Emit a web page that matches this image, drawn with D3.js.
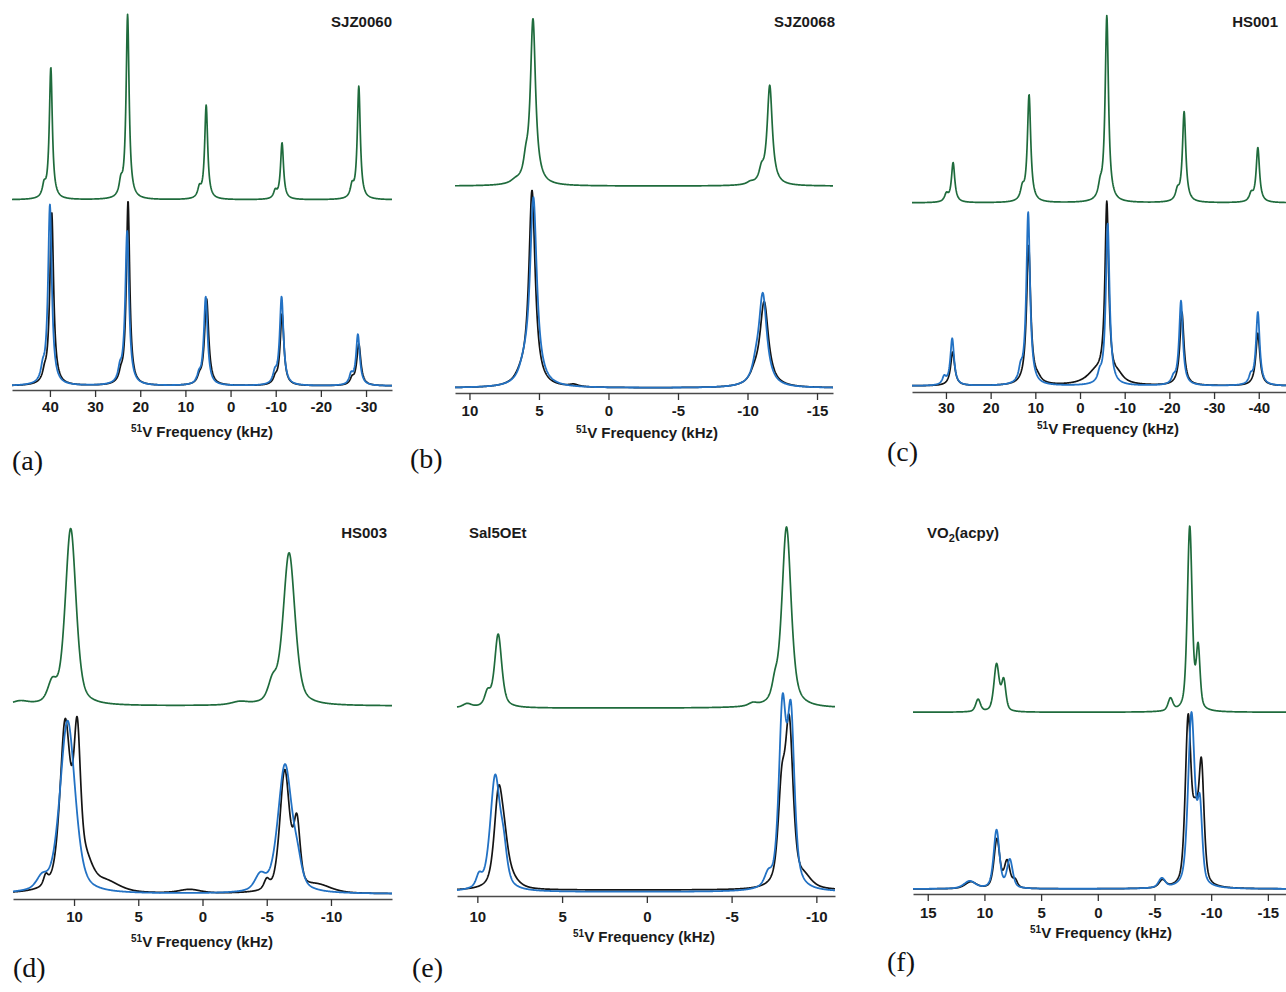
<!DOCTYPE html>
<html>
<head>
<meta charset="utf-8">
<script src="https://cdn.jsdelivr.net/npm/d3@7"></script>
<style>
  body { margin: 0; background: #fff; }
  svg { display: block; }
</style>
</head>
<body>
<svg id="chart" width="1286" height="992"></svg>
<script>
// 51V MAS NMR spectra, six samples.
// Each trace is a peak table: [centre (kHz), height (% of panel), FWHM (kHz)].
// "top" = upper green trace, "fit" = blue trace, "exp" = black trace.

// (a) SJZ0060
const sjz0060Top = [[39.8,35,0.8],[41.3,3,0.9],[22.8,49,0.8],[24.3,3.5,0.9],[5.4,25,0.8],[6.9,2.5,0.9],[-11.4,15,0.8],[-9.9,2,0.9],[-28.4,30,0.8],[-26.9,3,0.9]];
const sjz0060Fit = [[40.0,48,1.0],[41.6,3,1.0],[22.9,41,1.0],[24.5,3,1.0],[5.5,23.5,1.0],[7.0,2,1.0],[-11.3,23.5,1.0],[-9.8,2.5,1.0],[-28.2,13.5,1.0],[-26.7,2.5,1.0]];
const sjz0060Exp = [[39.6,46,1.0],[41.2,2,1.0],[22.7,49,0.9],[24.3,2,1.0],[5.3,23,1.1],[6.9,1.5,1.0],[-11.4,19,1.0],[-9.9,1.5,1.0],[-28.4,11,1.1],[-26.9,1.5,1.0]];

// (b) SJZ0068
const sjz0068Top = [[5.43,44,0.45],[5.95,4,0.4],[6.7,0.8,0.8],[-11.6,26.5,0.45],[-11.0,3,0.4],[-10.2,0.6,0.6]];
const sjz0068Fit = [[5.4,50,0.6],[6.1,3,0.8],[-11.1,24.5,0.7],[-10.6,3,0.6]];
const sjz0068Exp = [[5.5,52,0.55],[6.3,2,1.0],[2.5,0.6,0.8],[-11.2,22.5,0.75],[-10.5,2,0.8]];

// (c) HS001
const hs001Top = [[28.4,10.5,0.9],[29.9,2,1.0],[11.4,28.5,0.9],[12.9,3,1.0],[-6.0,49.5,0.9],[-4.5,3,1.0],[-23.3,24,0.9],[-21.8,2.5,1.0],[-39.8,14.5,0.9],[-38.3,2,1.0]];
const hs001Fit = [[28.6,12.5,1.0],[30.4,2,1.0],[11.6,46,1.0],[13.3,3,1.0],[-6.2,43,1.0],[-4.4,2,1.0],[-22.6,22.5,1.0],[-20.9,1.5,1.0],[-39.8,19.5,1.0],[-38.2,2,1.0]];
const hs001Exp = [[28.5,9,1.1],[11.5,37,1.1],[9.5,1.2,2],[-6.0,47,1.0],[-3.5,3.2,5],[-8.5,2,3],[-22.8,19.5,1.1],[-39.8,14,1.1]];

// (d) HS003
const hs003Top = [[10.26,47,1.0],[11.7,5,0.8],[14.2,1,1.5],[-6.74,40.5,1.1],[-5.45,5,0.8],[-2.9,0.8,1.5]];
const hs003Fit = [[10.5,46,1.4],[12.5,3,1.0],[-6.42,34,1.3],[-7.4,5,0.8],[-4.5,4,1.0]];
const hs003Exp = [[10.7,38,0.9],[9.75,34,0.6],[10.2,8,2.0],[9.0,4,1.2],[12.2,2.5,0.4],[7.5,2.5,2.5],[1.0,1.0,2.0],[-6.4,32,0.9],[-7.35,17,0.6],[-5.0,2.5,0.5],[-9.0,2,2.5]];

// (e) Sal5OEt
const sal5oetTop = [[8.77,19.5,0.5],[9.4,3.5,0.4],[10.6,1,0.6],[-8.24,48,0.65],[-7.55,4,0.4],[-6.25,0.8,0.6]];
const sal5oetFit = [[8.95,30,0.7],[8.45,8,0.5],[9.9,3,0.4],[-8.0,46,0.5],[-8.5,44,0.5],[-7.15,3,0.5]];
const sal5oetExp = [[8.75,24,0.6],[8.4,8,0.6],[8.0,2,1.0],[-8.4,42,0.55],[-7.95,23,0.5],[-9.3,2.5,1.0],[0,0.5,40]];

// (f) VO2(acpy)
const vo2acpyTop = [[10.56,3.3,0.5],[8.93,12.5,0.55],[8.3,8,0.45],[-6.41,3.3,0.5],[-8.11,49,0.5],[-8.85,16,0.4]];
const vo2acpyFit = [[11.3,2,1.2],[8.93,15.5,0.6],[7.76,7.5,0.6],[-5.65,2.5,0.7],[-8.26,46,0.7],[-9.0,20,0.5]];
const vo2acpyExp = [[11.2,1.8,1.2],[8.9,13,0.6],[8.0,7,0.6],[7.3,2,0.5],[-5.7,2,0.7],[-7.97,44,0.6],[-9.14,31,0.55],[-8.6,15,0.6]];

// axis ticks (kHz)
const ticksA = [40,30,20,10,0,-10,-20,-30];
const ticksB = [10,5,0,-5,-10,-15];
const ticksC = [30,20,10,0,-10,-20,-30,-40];
const ticksD = [10,5,0,-5,-10];
const ticksE = [10,5,0,-5,-10];
const ticksF = [15,10,5,0,-5,-10,-15];

const sampleNames = ["SJZ0060","SJZ0068","HS001","HS003","Sal5OEt","VO2(acpy)"];
const panelLetters = ["(a)","(b)","(c)","(d)","(e)","(f)"];

// panel geometry
const layout = [
  {top:sjz0060Top, fit:sjz0060Fit, exp:sjz0060Exp, ticks:ticksA, eta:1.0, offset:49.5,
   x0:12, x1:392, d0:48.4, d1:-35.75, axisY:390, baseY:386, tickDy:22, titleX:202, titleY:437,
   nameX:392, nameY:27, nameAnchor:"end", letterX:12, letterY:470},
  {top:sjz0068Top, fit:sjz0068Fit, exp:sjz0068Exp, ticks:ticksB, eta:1.0, offset:53.7,
   x0:455, x1:833, d0:11.04, d1:-16.15, axisY:393, baseY:388, tickDy:23, titleX:647, titleY:438,
   nameX:835, nameY:27, nameAnchor:"end", letterX:410, letterY:468},
  {top:hs001Top, fit:hs001Fit, exp:hs001Exp, ticks:ticksC, eta:1.0, offset:48.7,
   x0:912, x1:1286, d0:37.6, d1:-46.1, axisY:392, baseY:386, tickDy:21, titleX:1108, titleY:434,
   nameX:1278, nameY:27, nameAnchor:"end", letterX:887, letterY:461},
  {top:hs003Top, fit:hs003Fit, exp:hs003Exp, ticks:ticksD, eta:0.5, offset:50,
   x0:13, x1:392, d0:14.75, d1:-14.75, axisY:899, baseY:894, tickDy:23, titleX:202, titleY:947,
   nameX:387, nameY:538, nameAnchor:"end", letterX:13, letterY:977},
  {top:sal5oetTop, fit:sal5oetFit, exp:sal5oetExp, ticks:ticksE, eta:0.6, offset:48.9,
   x0:457, x1:835, d0:11.2, d1:-11.1, axisY:896, baseY:892, tickDy:26, titleX:644, titleY:942,
   nameX:469, nameY:538, nameAnchor:"start", letterX:412, letterY:977},
  {top:vo2acpyTop, fit:vo2acpyFit, exp:vo2acpyExp, ticks:ticksF, eta:0.5, offset:47,
   x0:913, x1:1286, d0:16.3, d1:-16.6, axisY:894, baseY:889, tickDy:24, titleX:1101, titleY:938,
   nameX:927, nameY:538, nameAnchor:"start", letterX:887, letterY:971}
];

const colors = { top: "#1f6b3c", fit: "#2372c4", exp: "#141414" };
const sansFont = "'Liberation Sans', Arial, Helvetica, sans-serif";
const serifFont = "'Liberation Serif', 'Times New Roman', serif";

// pseudo-Voigt line shape summed over a peak table
function lineShape(peaks, eta) {
  const ln2x4 = 4 * Math.LN2;
  return f => d3.sum(peaks, ([c, h, w]) => {
    const u = (f - c) / w;
    return h * (eta / (1 + 4 * u * u) + (1 - eta) * Math.exp(-ln2x4 * u * u));
  });
}

const svg = d3.select("#chart");

layout.forEach((p, i) => {
  const g = svg.append("g");
  const x = d3.scaleLinear().domain([p.d0, p.d1]).range([p.x0, p.x1]);
  const y = d3.scaleLinear().domain([0, 100]).range([p.baseY, p.baseY - 376]);
  const grid = d3.range(0, 1201).map(k => p.d0 + (p.d1 - p.d0) * k / 1200);

  const traces = [
    { peaks: p.exp, off: 0, color: colors.exp, width: 1.7 },
    { peaks: p.fit, off: 0, color: colors.fit, width: 1.8 },
    { peaks: p.top, off: p.offset, color: colors.top, width: 1.7 }
  ];
  traces.forEach(t => {
    const fn = lineShape(t.peaks, p.eta);
    const line = d3.line()
      .x(f => x(f))
      .y(f => y(t.off + fn(f)));
    g.append("path")
      .datum(grid)
      .attr("d", line)
      .attr("fill", "none")
      .attr("stroke", t.color)
      .attr("stroke-width", t.width)
      .attr("stroke-linejoin", "round");
  });

  // frequency axis
  const axis = d3.axisBottom(x)
    .tickValues(p.ticks)
    .tickSize(7)
    .tickSizeOuter(0)
    .tickPadding(p.tickDy - 7 - 11)
    .tickFormat(d => String(d));
  const ax = g.append("g")
    .attr("transform", `translate(0,${p.axisY})`)
    .call(axis);
  ax.select(".domain").attr("stroke", "#4a4a4a").attr("stroke-width", 1.6);
  ax.selectAll(".tick line").attr("stroke", "#333").attr("stroke-width", 1.3);
  ax.selectAll(".tick text")
    .attr("fill", "#1a1a1a")
    .attr("font-family", sansFont)
    .attr("font-weight", "bold")
    .attr("font-size", 15);

  // axis title with superscript mass number
  const title = g.append("text")
    .attr("x", p.titleX)
    .attr("y", p.titleY)
    .attr("text-anchor", "middle")
    .attr("font-family", sansFont)
    .attr("font-weight", "bold")
    .attr("font-size", 15)
    .attr("fill", "#1a1a1a");
  title.append("tspan").attr("font-size", 10).attr("dy", -5).text("51");
  title.append("tspan").attr("dy", 5).text("V Frequency (kHz)");

  // sample name
  const name = g.append("text")
    .attr("x", p.nameX)
    .attr("y", p.nameY)
    .attr("text-anchor", p.nameAnchor)
    .attr("font-family", sansFont)
    .attr("font-weight", "bold")
    .attr("font-size", 15)
    .attr("fill", "#1a1a1a");
  const label = sampleNames[i];
  const sub = label.match(/^(VO)(2)(.*)$/);
  if (sub) {
    name.append("tspan").text(sub[1]);
    name.append("tspan").attr("font-size", 11).attr("dy", 4).text(sub[2]);
    name.append("tspan").attr("dy", -4).text(sub[3]);
  } else {
    name.text(label);
  }

  // panel letter
  g.append("text")
    .attr("x", p.letterX)
    .attr("y", p.letterY)
    .attr("font-family", serifFont)
    .attr("font-size", 28)
    .attr("fill", "#111")
    .text(panelLetters[i]);
});
</script>
</body>
</html>
